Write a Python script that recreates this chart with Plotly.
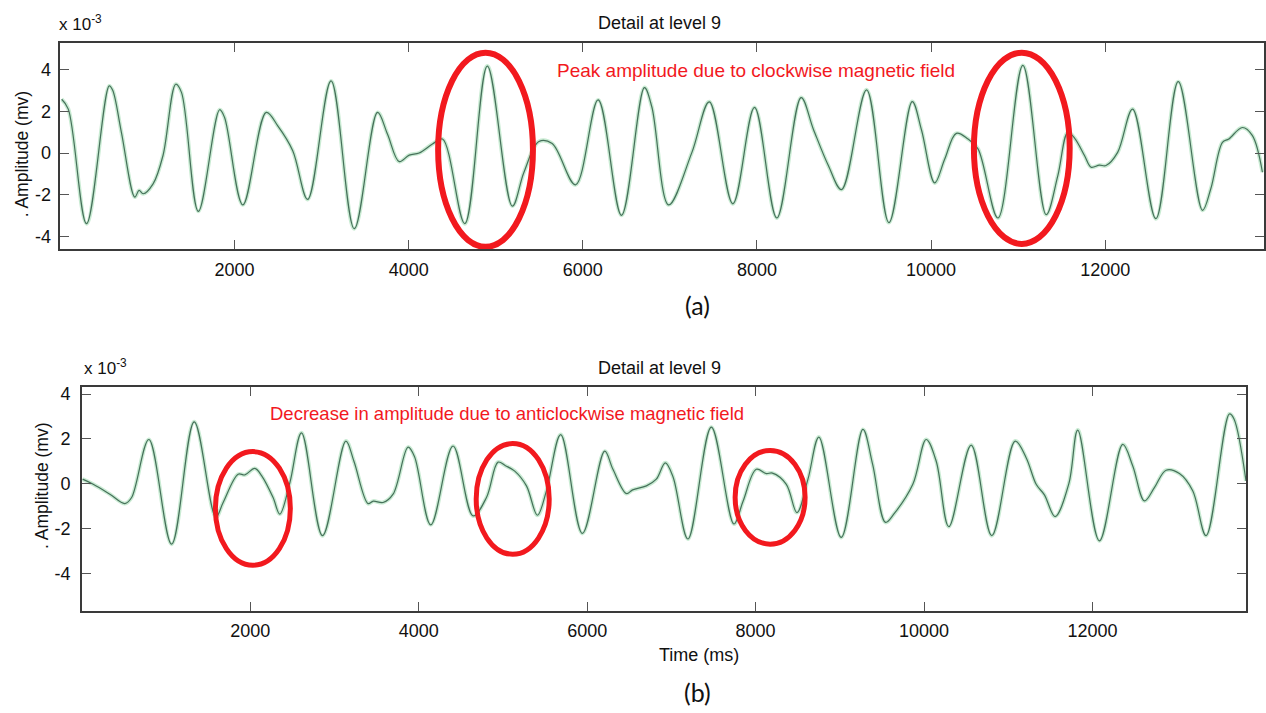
import plotly.graph_objects as go

# ---- Panel (a): level-9 detail coefficients, clockwise field ----
time_a = [14, 90, 300, 560, 600, 700, 854, 903, 950, 1064, 1178, 1324, 1390, 1584,
          1828, 1885, 2095, 2363, 2496, 2668, 2840, 3108, 3375, 3642, 3757, 3891,
          4006, 4120, 4273, 4388, 4644, 4903, 5190, 5324, 5496, 5648, 5916, 6176,
          6444, 6707, 6793, 6986, 7253, 7453, 7723, 7972, 8228, 8507, 8648, 8820,
          8972, 9259, 9516, 9783, 9890, 10042, 10157, 10290, 10424, 10539, 10768,
          11054, 11322, 11456, 11571, 11650, 11762, 11838, 11933, 12009, 12143,
          12315, 12582, 12839, 13118, 13213, 13347, 13420, 13576, 13691, 13806]
amp_a = [2.57, 2.1, -3.38, 3.21, 3.0, 0.99, -2.11, -1.79, -1.95, -1.48, -0.12, 3.29,
         2.9, -2.79, 2.07, 1.7, -2.48, 1.94, 1.3, 0.11, -2.22, 3.45, -3.62, 1.94, 0.9,
         -0.41, -0.1, 0.0, 0.43, 0.67, -3.38, 4.16, -2.54, -0.92, 0.55, 0.45, -1.52,
         2.54, -2.98, 3.13, 2.2, -2.48, 0.03, 2.45, -2.43, 2.18, -3.11, 2.65, 1.14,
         -0.6, -1.75, 3.02, -3.33, 2.46, 1.1, -1.43, -0.29, 0.94, 0.67, 0.2, -3.11,
         4.19, -2.95, -1.08, 0.99, 0.7, -0.12, -0.68, -0.58, -0.6, 0.03, 2.1, -3.14,
         3.41, -2.74, -1.71, 0.51, 0.67, 1.22, 0.83, -0.92]

# ---- Panel (b): level-9 detail coefficients, anticlockwise field ----
time_b = [8, 134, 332, 510, 590, 795, 1065, 1333, 1590, 1677, 1855, 1935, 2053, 2135,
          2270, 2350, 2469, 2608, 2857, 3134, 3230, 3398, 3460, 3576, 3695, 3873,
          3950, 4143, 4407, 4645, 4804, 4942, 5030, 5140, 5279, 5409, 5516, 5686,
          5943, 6208, 6306, 6465, 6540, 6703, 6821, 6928, 7020, 7197, 7474, 7743,
          7850, 8008, 8127, 8200, 8365, 8491, 8622, 8752, 9017, 9274, 9390, 9543,
          9650, 9867, 10026, 10145, 10295, 10560, 10805, 11082, 11213, 11332, 11430,
          11557, 11720, 11826, 12083, 12360, 12479, 12618, 12736, 12875, 13033,
          13191, 13350, 13626, 13680, 13824]
amp_b = [0.2, -0.03, -0.47, -0.89, -0.62, 1.97, -2.7, 2.76, -1.5, -0.84, 0.42, 0.39,
         0.68, 0.35, -0.62, -1.36, 0.04, 2.27, -2.32, 1.9, 1.0, -0.89, -0.78, -0.84,
         -0.47, 1.63, 1.2, -1.84, 1.68, -1.44, -0.62, 0.96, 0.8, 0.56, -0.1, -1.41,
         -0.32, 2.19, -2.22, 1.45, 0.64, -0.44, -0.28, -0.1, 0.2, 0.93, 0.3, -2.47,
         2.52, -1.8, -0.8, 0.64, 0.45, 0.47, -0.03, -1.29, 0.2, 2.08, -2.4, 2.42, 0.86,
         -1.73, -1.32, -0.03, 1.97, 1.0, -1.92, 1.72, -2.32, 1.9, 1.16, -0.03, -0.5,
         -1.47, 0.0, 2.39, -2.55, 1.75, 0.79, -0.77, -0.18, 0.6, 0.45, -0.32, -2.32,
         3.11, 2.9, 0.12]

# Tick labels
x_ticks = [2000, 4000, 6000, 8000, 10000, 12000]
y_ticks = [-4, -2, 0, 2, 4]

# Highlighted regions (time span, amplitude span)
rings_a = [((4338, 5427), (-4.49, 4.80)), ((10492, 11592), (-4.35, 4.80))]
rings_b = [((1585, 2475), (-3.64, 1.43)), ((4682, 5549), (-3.15, 1.79)),
           ((7757, 8588), (-2.70, 1.48))]

W, H = 1266, 713
FONT = "Liberation Sans, Arial, sans-serif"
HALO = "rgba(120,205,145,0.40)"
CORE = "#46705a"
RED = "#f2191e"

fig = go.Figure()

for t, a, xa, ya in [(time_a, amp_a, "x", "y"), (time_b, amp_b, "x2", "y2")]:
    fig.add_trace(go.Scatter(x=t, y=a, xaxis=xa, yaxis=ya, mode="lines",
                             line=dict(color=HALO, width=4, shape="spline", smoothing=1.0),
                             hoverinfo="skip", showlegend=False))
    fig.add_trace(go.Scatter(x=t, y=a, xaxis=xa, yaxis=ya, mode="lines",
                             line=dict(color=CORE, width=1.2, shape="spline", smoothing=1.0),
                             showlegend=False))


def px(v):
    return v / W


def py(v):
    return 1 - v / H


axis_common = dict(ticks="inside", ticklen=9, tickwidth=1.3, tickcolor="#555",
                   showline=True, linecolor="#3a3a3a", linewidth=1.6, mirror="ticks",
                   showgrid=False, zeroline=False,
                   tickfont=dict(family=FONT, size=18, color="#111"))

fig.update_layout(
    width=W, height=H, margin=dict(l=0, r=0, t=0, b=0),
    paper_bgcolor="white", plot_bgcolor="white",
    xaxis=dict(domain=[px(60.5), px(1265)], range=[0, 13824], anchor="y",
               tickvals=x_ticks, ticktext=[str(v) for v in x_ticks],
               ticklabelstandoff=4, **axis_common),
    yaxis=dict(domain=[py(247), py(40)], range=[-4.59, 5.27], anchor="x",
               tickvals=y_ticks, ticktext=[str(v) for v in y_ticks],
               ticklabelstandoff=4, **axis_common),
    xaxis2=dict(domain=[px(82), px(1247)], range=[0, 13824], anchor="y2",
                tickvals=x_ticks, ticktext=[str(v) for v in x_ticks],
                ticklabelstandoff=2, **axis_common),
    yaxis2=dict(domain=[py(610.7), py(385.7)], range=[-5.69, 4.31], anchor="x2",
                tickvals=y_ticks, ticktext=[str(v) for v in y_ticks],
                ticklabelstandoff=6, **axis_common),
)

shapes = []
for (x0, x1), (y0, y1) in rings_a:
    shapes.append(dict(type="circle", xref="x", yref="y", x0=x0, x1=x1, y0=y0, y1=y1,
                       line=dict(color=RED, width=6)))
for (x0, x1), (y0, y1) in rings_b:
    shapes.append(dict(type="circle", xref="x2", yref="y2", x0=x0, x1=x1, y0=y0, y1=y1,
                       line=dict(color=RED, width=5)))
fig.update_layout(shapes=shapes)


def note(text, x, y, size=17, color="#111", xanchor="center", angle=0, family=FONT):
    return dict(text=text, x=x, y=y, xref="paper", yref="paper", showarrow=False,
                xanchor=xanchor, yanchor="middle", textangle=angle,
                font=dict(family=family, size=size, color=color))


fig.update_layout(annotations=[
    note("Detail at level 9", px(660), py(20), size=18),
    note("Detail at level 9", px(660), py(367), size=18),
    note("x 10<sup>-3</sup>", px(57), py(20), size=17, xanchor="left"),
    note("x 10<sup>-3</sup>", px(82), py(366), size=17, xanchor="left"),
    note(". Amplitude (mv)", px(22), py(152), size=17.5, angle=-90),
    note(". Amplitude (mv)", px(42), py(485), size=17.5, angle=-90),
    note("Time (ms)", px(700), py(655), size=18),
    note("Peak amplitude due to clockwise magnetic field", px(555), py(68),
         size=19, color=RED, xanchor="left"),
    note("Decrease in amplitude due to anticlockwise magnetic field", px(268), py(412),
         size=18.5, color=RED, xanchor="left"),
    note("(a)", px(698), py(303), size=25, family="Lato, Open Sans, sans-serif"),
    note("(b)", px(698), py(692), size=25, family="Lato, Open Sans, sans-serif"),
])

fig.write_html("out.html")
